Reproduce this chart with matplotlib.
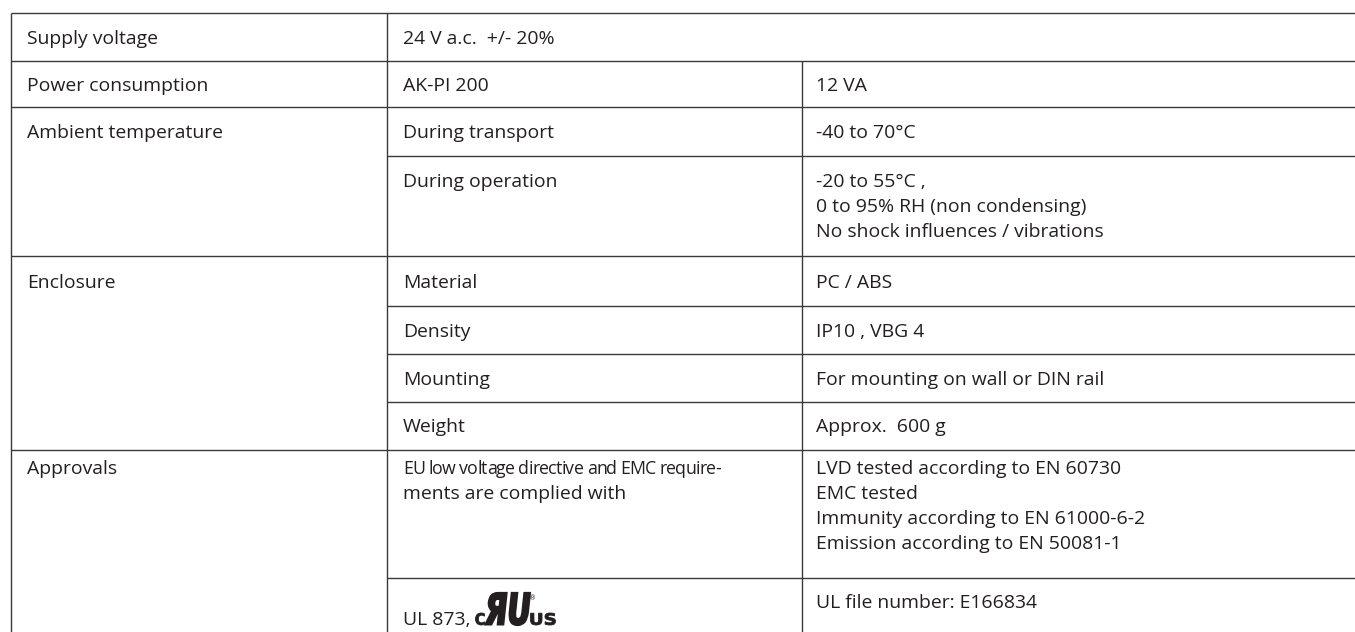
import numpy as np
import matplotlib
matplotlib.use("Agg")
import matplotlib.pyplot as plt
from matplotlib.font_manager import FontProperties, findfont, get_font
from matplotlib.textpath import TextPath
from matplotlib.patches import PathPatch
from matplotlib.transforms import Affine2D

# --- table content ---
groups = ["Supply voltage", "Power consumption", "Ambient temperature", "Enclosure", "Approvals"]
group_rows = [1, 1, 2, 4, 2]          # sub-rows belonging to each group
items = [
    "24 V a.c.  +/- 20%",
    "AK-PI 200",
    "During transport",
    "During operation",
    "Material",
    "Density",
    "Mounting",
    "Weight",
    "EU low voltage directive and EMC require-\nments are complied with",
    "UL 873,",
]
values = [
    None,                              # first item spans both right columns
    "12 VA",
    "-40 to 70°C",
    "-20 to 55°C ,\n0 to 95% RH (non condensing)\nNo shock influences / vibrations",
    "PC / ABS",
    "IP10 , VBG 4",
    "For mounting on wall or DIN rail",
    "Approx.  600 g",
    "LVD tested according to EN 60730\nEMC tested\nImmunity according to EN 61000-6-2\nEmission according to EN 50081-1",
    "UL file number: E166834",
]

# --- layout (pixels) ---
W, H = 1355, 632
row_h = [48, 46, 49, 100, 50, 48, 48, 48, 128, 60]
y_top = 13
x_cols = [11, 387, 802]
pad = [16, 16, 14]
base_off = [31, 30, 31, 31, 32, 31, 31, 30, 24, 30]
line_step = 25
ink = "#231f20"
rule = "#3a3a3a"
lw = 1.0

fig = plt.figure(figsize=(W / 100, H / 100), dpi=100)
ax = fig.add_axes([0, 0, 1, 1])
ax.set_xlim(0, W)
ax.set_ylim(H, 0)
ax.axis("off")

# fit the font size so a label has the same width as in the source
fp = FontProperties(family="Open Sans")
r = fig.canvas.get_renderer()
probe = ax.text(0, 0, groups[0], fontproperties=fp, fontsize=10)
w10 = probe.get_window_extent(renderer=r).width
probe.remove()
fs = 10 * 131 / w10

tops = y_top + np.concatenate([[0], np.cumsum(row_h)])


def put(x, y, s):
    for k, line in enumerate(s.split("\n")):
        ax.text(x, y + k * line_step, line, fontproperties=fp, fontsize=fs,
                color=ink, ha="left", va="baseline")


def tracked(x, y, s, width, size):
    # justified line in the source: letters set tighter than normal
    font = get_font(findfont(fp))
    font.set_size(size, 100)
    adv = np.array([font.load_char(ord(ch)).linearHoriAdvance / 65536 for ch in s])
    pos = np.concatenate([[0], np.cumsum(adv)[:-1]])
    delta = (adv.sum() - width) / (len(s) - 1)
    for i, ch in enumerate(s):
        if ch != " ":
            ax.text(x + pos[i] - i * delta, y, ch, fontproperties=fp,
                    fontsize=size, color=ink, ha="left", va="baseline")


def glyphs(s, x0, x1, base, height, slant=0.0, stroke=0.0):
    tp = TextPath((0, 0), s, size=100,
                  prop=FontProperties(family="DejaVu Sans", weight="bold"))
    bb = tp.get_extents()
    tr = (Affine2D().translate(-bb.x0, -bb.y0)
          .scale((x1 - x0) / bb.width, height / bb.height)
          .skew_deg(slant, 0)
          .scale(1, -1)
          .translate(x0, base))
    ax.add_patch(PathPatch(tr.transform_path(tp), fc=ink,
                           ec=ink if stroke else "none", lw=stroke))


# rules
ax.hlines(tops[0], x_cols[0], W, color=rule, lw=lw)
ax.vlines(x_cols[0], tops[0], H, color=rule, lw=lw)
ax.vlines(x_cols[1], tops[0], H, color=rule, lw=lw)
ax.vlines(x_cols[2], tops[1], H, color=rule, lw=lw)

row = 0
for g, name in enumerate(groups):
    put(x_cols[0] + pad[0], tops[row] + base_off[row], name)
    for j in range(group_rows[g]):
        i = row + j
        x_start = x_cols[0] if j == group_rows[g] - 1 else x_cols[1]
        ax.hlines(tops[i + 1], x_start, W, color=rule, lw=lw)
        xb = x_cols[1] + pad[1]
        if i == len(items) - 1:
            # UL line with recognized component mark
            yb = tops[i] + 47
            t = ax.text(xb, yb, items[i], fontproperties=fp, fontsize=fs,
                        color=ink, ha="left", va="baseline")
            bb = t.get_window_extent(renderer=r)
            xe = xb + bb.width + 5
            glyphs("C", xe, xe + 9, yb, 12, stroke=0.6)
            glyphs("ЯU", xe + 10, xe + 51, yb, 32, slant=6, stroke=1.6)
            glyphs("US", xe + 55, xe + 80, yb, 12, stroke=0.6)
            ax.text(xe + 53, yb - 27, "®", fontsize=5, color=ink,
                    ha="left", va="center")
        elif "\n" in items[i] and g == 4:
            first, rest = items[i].split("\n", 1)
            tracked(xb, tops[i] + base_off[i], first, 318, fs * 0.92)
            put(xb, tops[i] + base_off[i] + line_step, rest)
        else:
            put(xb, tops[i] + base_off[i], items[i])
        if values[i] is not None:
            put(x_cols[2] + pad[2], tops[i] + base_off[i], values[i])
    row += group_rows[g]

fig.savefig("out.png", dpi=100)
